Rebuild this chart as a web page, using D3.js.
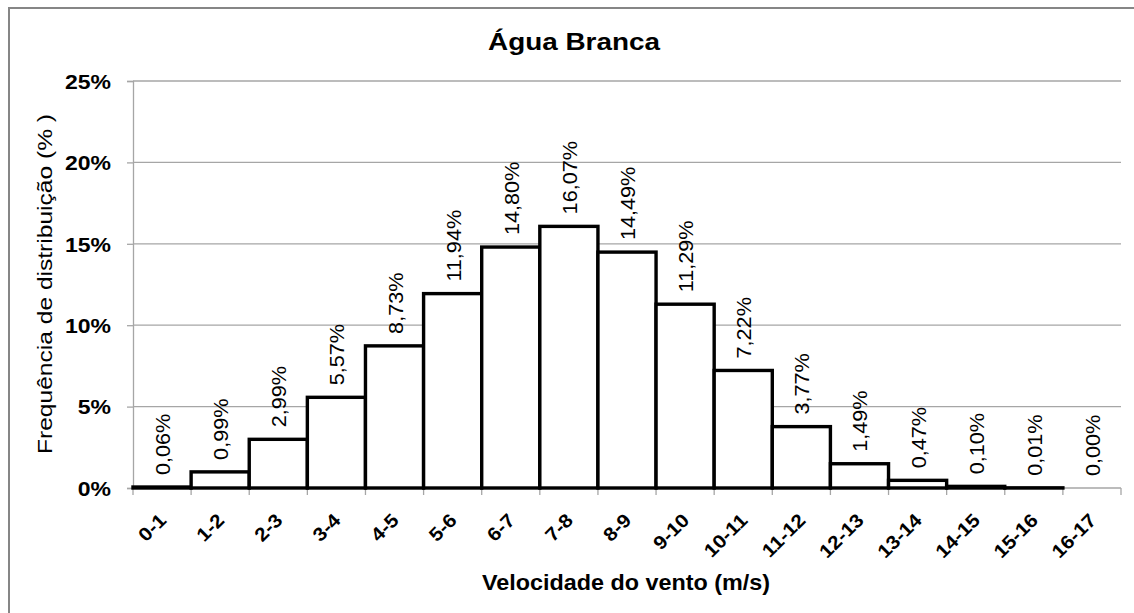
<!DOCTYPE html>
<html>
<head>
<meta charset="utf-8">
<script src="https://cdn.jsdelivr.net/npm/d3@7/dist/d3.min.js"></script>
<style>
  html, body { margin: 0; padding: 0; background: #fff; }
  svg { display: block; font-family: Arial, "Liberation Sans", sans-serif; }
</style>
</head>
<body>
<svg id="chart" width="1134" height="613"></svg>
<script>
const categories = ["0-1","1-2","2-3","3-4","4-5","5-6","6-7","7-8","8-9","9-10","10-11","11-12","12-13","13-14","14-15","15-16","16-17"];
const values = [0.06, 0.99, 2.99, 5.57, 8.73, 11.94, 14.80, 16.07, 14.49, 11.29, 7.22, 3.77, 1.49, 0.47, 0.10, 0.01, 0.00];
const valueLabels = ["0,06%","0,99%","2,99%","5,57%","8,73%","11,94%","14,80%","16,07%","14,49%","11,29%","7,22%","3,77%","1,49%","0,47%","0,10%","0,01%","0,00%"];
const yTicks = [0, 5, 10, 15, 20, 25];
const yTickLabels = ["0%","5%","10%","15%","20%","25%"];
const title = "Água Branca";
const xTitle = "Velocidade do vento (m/s)";
const yTitle = "Frequência de distribuição (% )";

const svg = d3.select("#chart");
const W = 1134, H = 613;
const plot = {left: 133, right: 1121, top: 81, bottom: 488};

// chart border
svg.append("path")
  .attr("d", `M9,${H+2} L9,8 L${W+2},8`)
  .attr("fill", "none").attr("stroke", "#868686").attr("stroke-width", 2);

const x = d3.scaleBand().domain(categories).range([plot.left, plot.right]).padding(0);
const y = d3.scaleLinear().domain([0, 25]).range([plot.bottom, plot.top]);

// gridlines
svg.append("g").selectAll("line").data(yTicks.filter(d => d > 0)).join("line")
  .attr("x1", plot.left).attr("x2", plot.right)
  .attr("y1", d => y(d)).attr("y2", d => y(d))
  .attr("stroke", "#a6a6a6").attr("stroke-width", 1.3);

// y axis
const yAxis = svg.append("g").attr("transform", `translate(${plot.left},0)`)
  .call(d3.axisLeft(y).tickValues(yTicks).tickSize(6).tickFormat((d, i) => yTickLabels[i]));
yAxis.select(".domain").attr("stroke", "#a6a6a6").attr("stroke-width", 1.3);
yAxis.selectAll(".tick line").attr("stroke", "#a6a6a6").attr("stroke-width", 1.3);
yAxis.selectAll(".tick text")
  .attr("x", -22).attr("dy", "0.36em")
  .attr("font-size", 20).attr("font-weight", "bold").attr("fill", "#000")
  .attr("font-family", "Arial, 'Liberation Sans', sans-serif")
  .each(function() { const l = this.getComputedTextLength(); d3.select(this).attr("textLength", l * 1.15).attr("lengthAdjust", "spacingAndGlyphs"); });

// x axis ticks at band boundaries
const bounds = categories.map(c => x(c)).concat([plot.right]);
svg.append("g").selectAll("line").data(bounds).join("line")
  .attr("x1", d => d).attr("x2", d => d)
  .attr("y1", plot.bottom).attr("y2", plot.bottom + 7)
  .attr("stroke", "#a6a6a6").attr("stroke-width", 1.3);
svg.append("line").attr("x1", plot.left).attr("x2", plot.right)
  .attr("y1", plot.bottom).attr("y2", plot.bottom)
  .attr("stroke", "#a6a6a6").attr("stroke-width", 1.3);

// bars
svg.append("g").selectAll("rect").data(values).join("rect")
  .attr("x", (d, i) => x(categories[i]))
  .attr("width", x.bandwidth())
  .attr("y", d => y(d))
  .attr("height", d => y(0) - y(d))
  .attr("fill", "#fff").attr("stroke", "#000").attr("stroke-width", 3.4);

// data labels
svg.append("g").selectAll("text").data(values).join("text")
  .attr("transform", (d, i) => `translate(${x(categories[i]) + x.bandwidth() / 2 + 8},${y(d) - 12}) rotate(-90)`)
  .attr("text-anchor", "start")
  .attr("font-size", 21).attr("fill", "#000")
  .text((d, i) => valueLabels[i])
  .each(function() { const l = this.getComputedTextLength(); d3.select(this).attr("textLength", l * 1.03).attr("lengthAdjust", "spacingAndGlyphs"); });

// x tick labels
svg.append("g").selectAll("text").data(categories).join("text")
  .attr("transform", c => `translate(${x(c) + x.bandwidth() / 2 - 4},${plot.bottom + 24}) rotate(-45)`)
  .attr("text-anchor", "end").attr("dy", "0.7em")
  .attr("font-size", 19).attr("font-weight", "bold").attr("fill", "#000")
  .text(c => c)
  .each(function() { const l = this.getComputedTextLength(); d3.select(this).attr("textLength", l * 1.1).attr("lengthAdjust", "spacingAndGlyphs"); });

// title
svg.append("text").attr("x", 574).attr("y", 50)
  .attr("text-anchor", "middle").attr("font-size", 23).attr("font-weight", "bold")
  .attr("textLength", 172).attr("lengthAdjust", "spacingAndGlyphs")
  .text(title);

// x title
svg.append("text").attr("x", 626).attr("y", 590)
  .attr("text-anchor", "middle").attr("font-size", 22).attr("font-weight", "bold")
  .attr("textLength", 288).attr("lengthAdjust", "spacingAndGlyphs")
  .text(xTitle);

// y title
svg.append("text").attr("transform", `translate(52,284) rotate(-90)`)
  .attr("text-anchor", "middle").attr("font-size", 20)
  .attr("textLength", 340).attr("lengthAdjust", "spacingAndGlyphs")
  .text(yTitle);
</script>
</body>
</html>
